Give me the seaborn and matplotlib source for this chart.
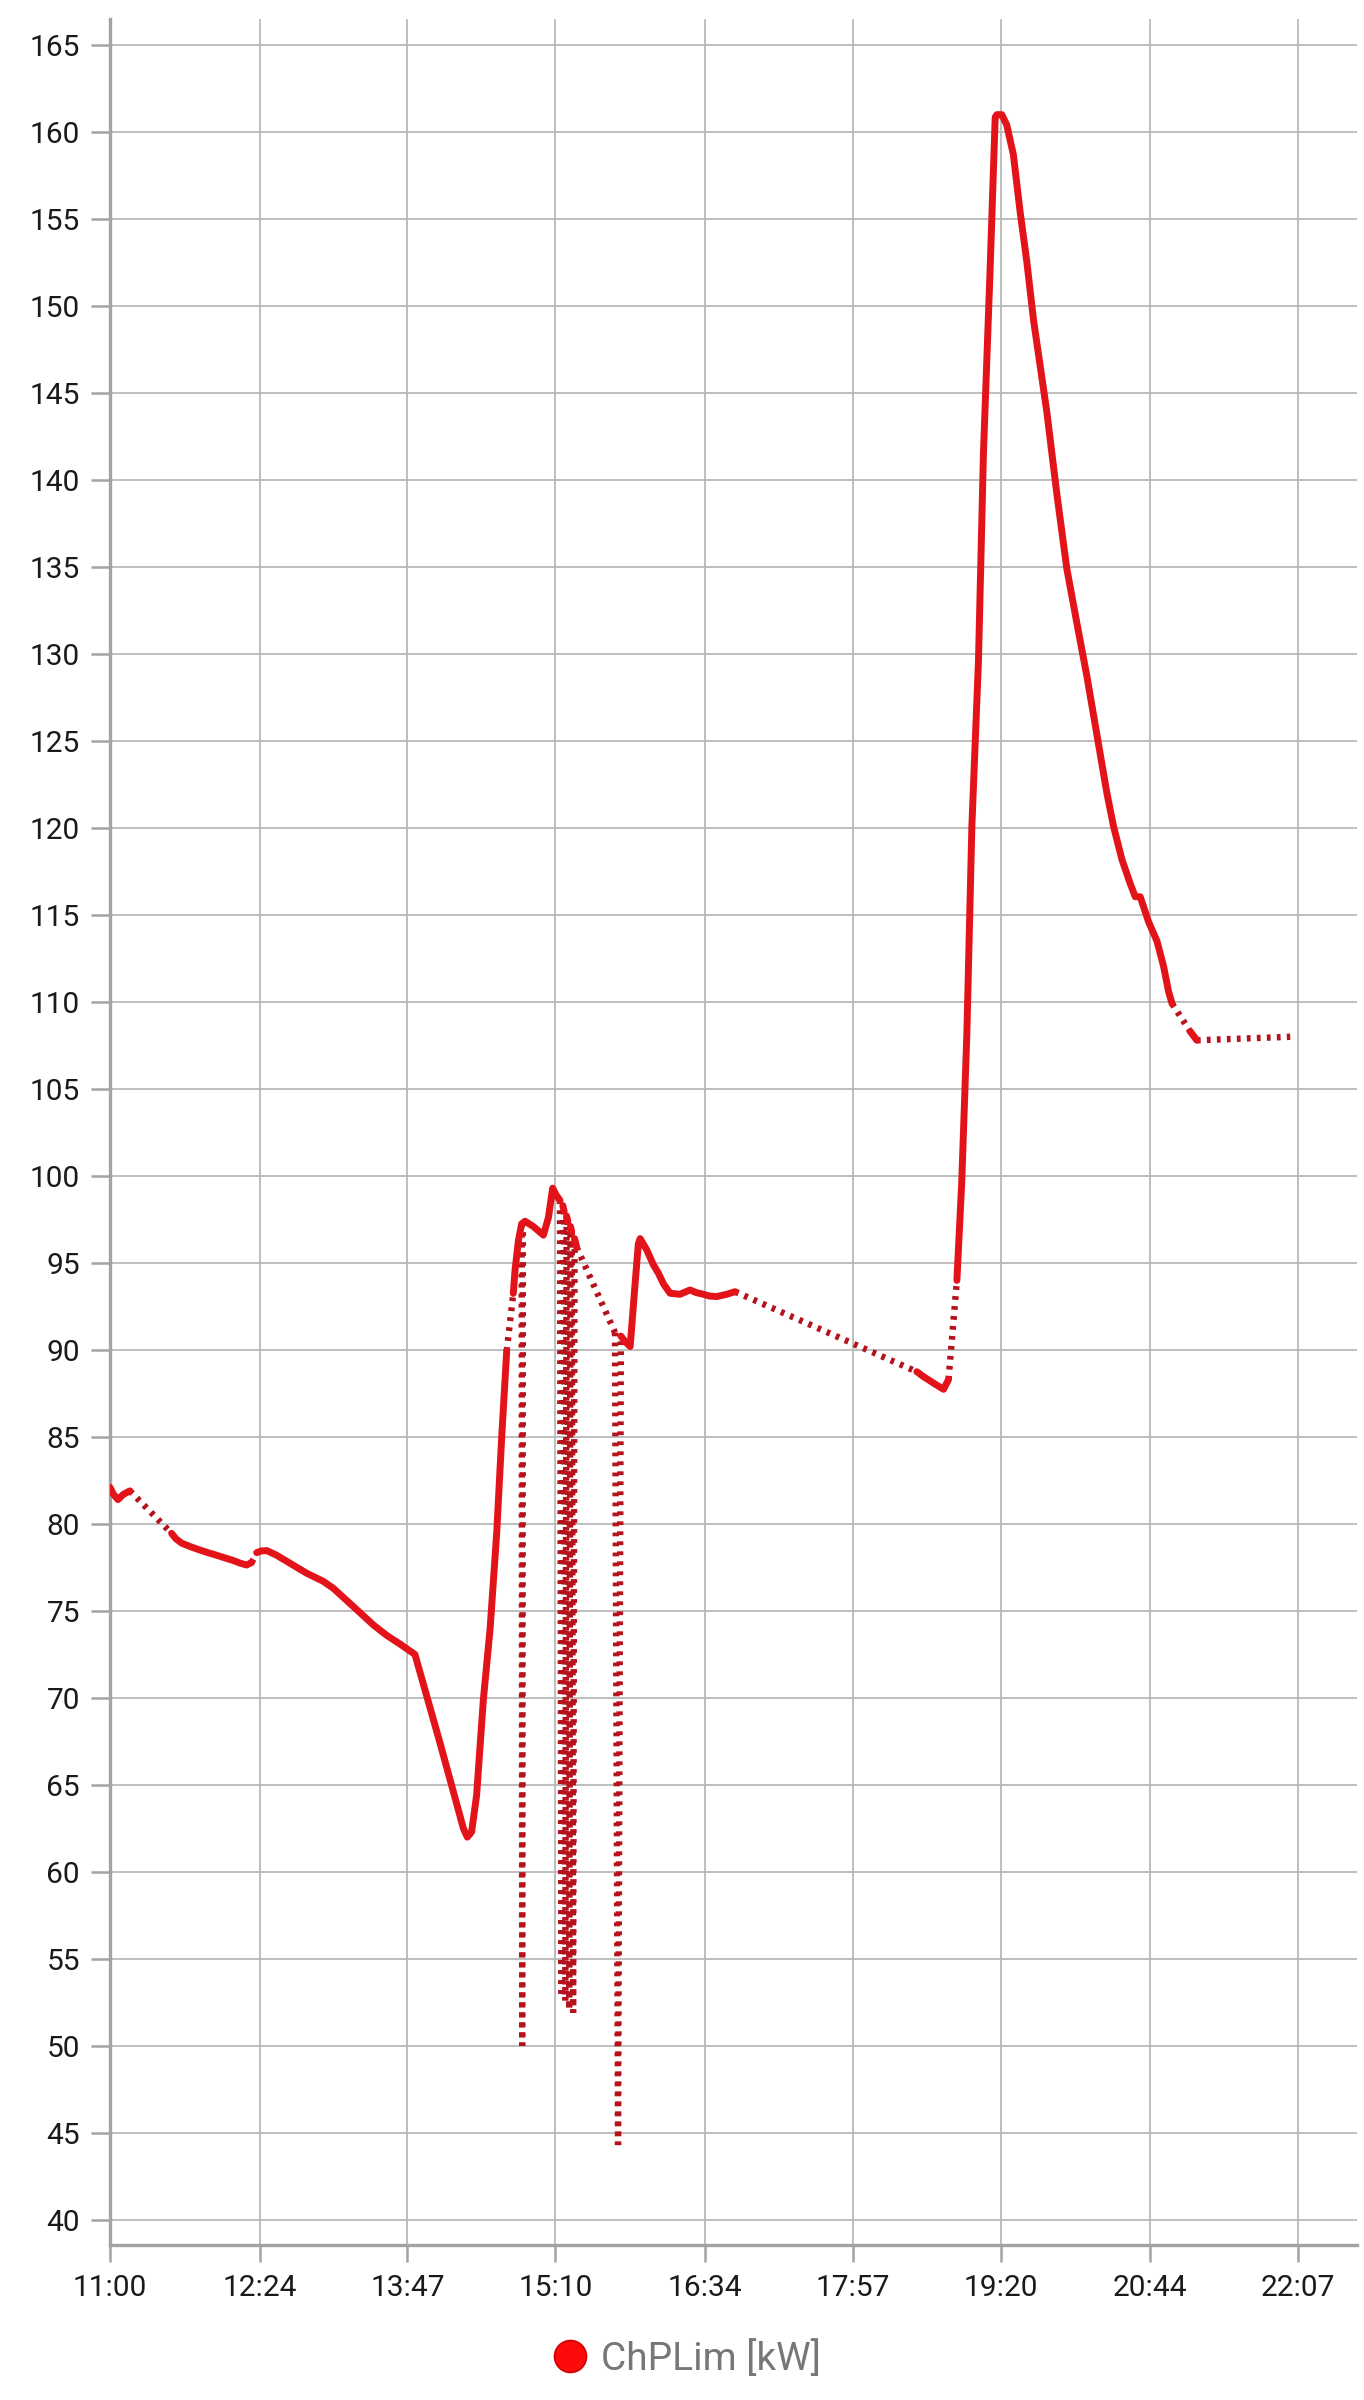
import matplotlib
matplotlib.use("Agg")
import matplotlib.pyplot as plt
from matplotlib.lines import Line2D
import numpy as np
import pandas as pd
import seaborn as sns

# ---------------- data ----------------
series_name = "ChPLim [kW]"
x_tick_labels = ["11:00", "12:24", "13:47", "15:10", "16:34", "17:57", "19:20", "20:44", "22:07"]
y_tick_values = list(range(40, 166, 5))

# minutes after 11:00
minutes = [
    0.0, 2.0, 4.5, 7.5, 11.2,
    34.6, 37.0, 40.2, 45.0, 50.5, 55.0, 59.9, 64.5, 69.2, 73.0, 76.7, 79.5,
    82.4, 85.0, 88.0, 93.6, 101.1, 110.4, 119.8, 125.4, 132.9, 140.4, 147.8, 155.3, 162.8, 171.2,
    185.3, 198.4, 200.6, 203.0, 205.8, 209.6, 213.4, 217.1, 219.9, 222.7,
    226.4, 227.4, 229.3, 231.1,
    231.4,
    231.8, 233.0, 237.6, 243.3, 246.1, 248.5, 250.5, 252.6,
    253.4,
    254.2, 254.9,
    255.6,
    256.3, 257.0,
    257.8,
    258.5, 259.2,
    260.0,
    260.8, 262.0,
    283.5,
    285.2,
    286.8, 289.0, 292.0, 294.8, 296.6, 297.6, 301.3, 305.0, 307.9, 310.7, 314.4, 320.0, 325.6,
    329.0, 333.1, 336.5, 340.6, 346.2, 350.9,
    452.9, 456.6, 462.2, 467.9, 469.7, 470.7,
    475.4, 478.1, 481.0, 483.8, 487.5, 490.3, 494.0, 496.9, 497.8, 500.6, 503.4, 507.1, 510.9,
    514.7, 518.4, 525.9, 531.5, 537.1, 542.7, 548.4, 554.0, 559.6, 563.3, 568.0, 572.7, 575.5,
    578.3, 583.0, 587.7, 591.4, 594.2, 596.2,
    606.4, 610.1,
    662.5,
]
kw_values = [
    82.1, 81.7, 81.4, 81.7, 81.9,
    79.46, 79.15, 78.9, 78.7, 78.5, 78.35, 78.2, 78.05, 77.9, 77.75, 77.64, 77.78,
    78.35, 78.45, 78.47, 78.2, 77.74, 77.17, 76.7, 76.3, 75.6, 74.9, 74.2, 73.6, 73.1, 72.5,
    67.4, 62.5, 62.0, 62.3, 64.4, 69.9, 74.0, 79.5, 85.0, 89.95,
    93.25, 94.6, 96.3, 97.25,
    50.0,
    97.3, 97.4, 97.1, 96.6, 97.6, 99.3, 98.9, 98.6,
    53.0,
    98.3, 98.0,
    52.6,
    97.7, 97.4,
    52.2,
    97.1, 96.8,
    51.9,
    96.4, 95.9,
    91.0,
    44.3,
    90.8, 90.5, 90.2, 93.85, 96.1, 96.4, 95.75, 94.9, 94.4, 93.8, 93.26, 93.2, 93.45,
    93.3, 93.2, 93.1, 93.07, 93.2, 93.35,
    88.75, 88.47, 88.1, 87.74, 88.1, 88.3,
    94.0, 99.6, 108.2, 120.1, 129.6, 141.55, 152.0, 160.85, 161.0, 161.0, 160.4, 158.7, 155.4,
    152.5, 149.2, 143.9, 139.2, 134.9, 131.8, 128.7, 125.35, 122.0, 120.1, 118.2, 116.8, 116.05,
    116.05, 114.6, 113.5, 112.05, 110.6, 109.9,
    108.3, 107.8,
    108.0,
]
# id of the continuous recording run each sample belongs to
run_id = (
    [0] * 5 + [1] * 12 + [2] * 24 + [3] * 4 + [4] + [5] * 8 + [6] + [7] * 2 + [8] + [9] * 2
    + [10] + [11] * 2 + [12] + [13] * 2 + [14] + [15] + [16] * 19 + [17] * 6 + [18] * 32
    + [19] * 2 + [20]
)

df = pd.DataFrame({"t": minutes, "v": kw_values, "run": run_id})

# gap connectors: last sample of one run to the first sample of the next
conn_rows = []
for i in range(len(df) - 1):
    if df.run[i] != df.run[i + 1]:
        conn_rows.append((df.t[i], df.v[i], i))
        conn_rows.append((df.t[i + 1], df.v[i + 1], i))
conn = pd.DataFrame(conn_rows, columns=["t", "v", "seg"])

# ---------------- styling ----------------
sns.set_theme(style="white")
plt.rcParams["font.family"] = ["Roboto", "DejaVu Sans"]
plt.rcParams["lines.scale_dashes"] = False

fig = plt.figure(figsize=(13.64, 24), dpi=100)
ax = fig.add_axes([0.0806, 0.0646, 0.9143, 0.9275])

line_red = "#e3131a"
dot_red = "#b5121b"

sns.lineplot(data=conn, x="t", y="v", units="seg", estimator=None, sort=False,
             color=dot_red, linewidth=4.6, linestyle=(0, (2.7, 4.5)),
             dash_capstyle="butt", legend=False, ax=ax, zorder=3)
sns.lineplot(data=df, x="t", y="v", units="run", estimator=None, sort=False,
             color=line_red, linewidth=5.0, solid_joinstyle="round",
             solid_capstyle="round", legend=False, ax=ax, zorder=4)

tick_pos = [int(s.split(":")[0]) * 60 + int(s.split(":")[1]) - 660 for s in x_tick_labels]
ax.set_xticks(tick_pos)
ax.set_xticklabels(x_tick_labels)
ax.set_yticks(y_tick_values)
ax.set_yticklabels([str(v) for v in y_tick_values])
ax.set_xlim(0, 700)
ax.set_ylim(38.56, 166.5)
ax.set_xlabel("")
ax.set_ylabel("")

ax.grid(True, color="#b9b9b9", linewidth=1.3, zorder=0)
ax.set_axisbelow(True)
for side in ["top", "right"]:
    ax.spines[side].set_visible(False)
for side in ["left", "bottom"]:
    ax.spines[side].set_color("#a3a3a3")
    ax.spines[side].set_linewidth(2.4)

ax.tick_params(axis="y", which="major", length=13.5, width=1.8, color="#a3a3a3",
               pad=8, labelsize=21.5, labelcolor="#1a1a1a", left=True)
ax.tick_params(axis="x", which="major", length=12, width=1.8, color="#a3a3a3",
               pad=9, labelsize=21.5, labelcolor="#1a1a1a", bottom=True)

handle = Line2D([], [], marker="o", linestyle="none", markersize=23,
                markerfacecolor="#ff0a0a", markeredgecolor="#d00000", markeredgewidth=1.2)
fig.legend(handles=[handle], labels=[series_name], loc="center",
           bbox_to_anchor=(0.5045, 1 - 2359 / 2400), frameon=False, fontsize=28,
           labelcolor="#777777", handlelength=0.8, handletextpad=0.4)

fig.savefig("out.png", dpi=100)
